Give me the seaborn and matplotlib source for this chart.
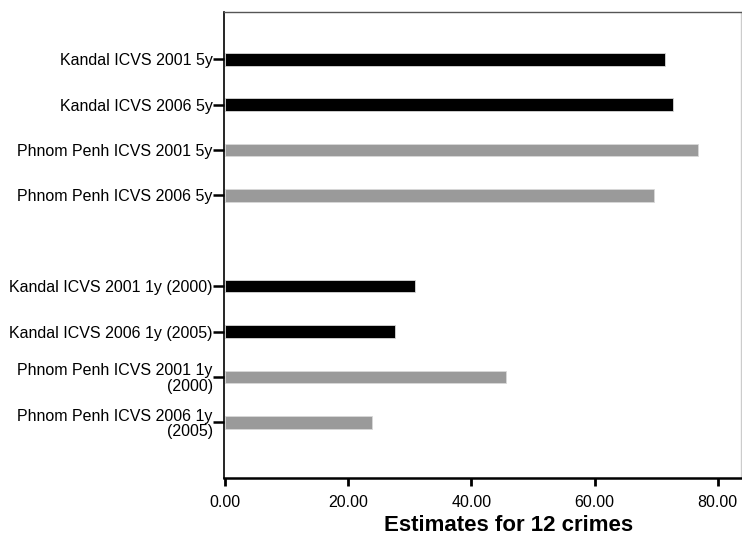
import pandas as pd
import seaborn as sns
import matplotlib.pyplot as plt
from matplotlib.ticker import MultipleLocator, FormatStrFormatter

# values
labels_5y = ['Kandal ICVS 2001 5y', 'Kandal ICVS 2006 5y',
             'Phnom Penh ICVS 2001 5y', 'Phnom Penh ICVS 2006 5y']
values_5y = [71.4, 72.8, 76.8, 69.6]

labels_1y = ['Kandal ICVS 2001 1y (2000)', 'Kandal ICVS 2006 1y (2005)',
             'Phnom Penh ICVS 2001 1y\n(2000)', 'Phnom Penh ICVS 2006 1y\n(2005)']
values_1y = [30.8, 27.6, 45.6, 23.8]

regions = ['Kandal', 'Kandal', 'Phnom Penh', 'Phnom Penh']
region_colors = {'Kandal': 'black', 'Phnom Penh': '#9a9a9a'}

df = pd.DataFrame({
    'label': labels_5y + labels_1y,
    'value': values_5y + values_1y,
    'region': regions + regions,
})

# blank slot between the 5 year and 1 year groups
spacer = ' '
order = labels_5y + [spacer] + labels_1y

sns.set_style('white')
plt.rcParams['font.family'] = ['Liberation Sans', 'DejaVu Sans']
plt.rcParams['text.color'] = 'black'
plt.rcParams['axes.labelcolor'] = 'black'
plt.rcParams['xtick.color'] = 'black'
plt.rcParams['ytick.color'] = 'black'

fig = plt.figure(figsize=(7.42, 5.40), dpi=100)
ax = fig.add_axes([0.3018, 0.1154, 0.9987 - 0.3018, 0.9778 - 0.1154])

sns.barplot(data=df, x='value', y='label', hue='region', order=order,
            palette=region_colors, dodge=False, width=0.28, orient='h',
            edgecolor='#d8d8d8', linewidth=0.6, legend=False, ax=ax)

ticks = [order.index(l) for l in df['label']]
ax.set_yticks(ticks, labels=list(df['label']))
for t in ax.get_yticklabels():
    t.set_linespacing(1.05)

ax.set_ylim(9.22, -1.04)
ax.set_xlim(-0.2, 83.8)
ax.xaxis.set_major_locator(MultipleLocator(20))
ax.xaxis.set_major_formatter(FormatStrFormatter('%.2f'))

ax.tick_params(axis='y', left=True, length=8, width=1.8, pad=0,
               labelsize=11.5, color='black', labelcolor='black')
ax.tick_params(axis='x', bottom=True, length=5.5, width=2, pad=7,
               labelsize=11.5, color='black', labelcolor='black')

ax.set_ylabel('')
ax.set_xlabel('Estimates for 12 crimes', fontsize=16, fontweight='bold',
              color='black')
ax.xaxis.set_label_coords(0.551, -0.103)
ax.xaxis.label.set_va('center')

ax.spines['left'].set_color('black')
ax.spines['left'].set_linewidth(1.2)
ax.spines['bottom'].set_color('black')
ax.spines['bottom'].set_linewidth(1.8)
ax.spines['top'].set_color('#555555')
ax.spines['top'].set_linewidth(1.0)
ax.spines['right'].set_color('#cccccc')
ax.spines['right'].set_linewidth(1.0)

fig.savefig('out.png', dpi=100)
